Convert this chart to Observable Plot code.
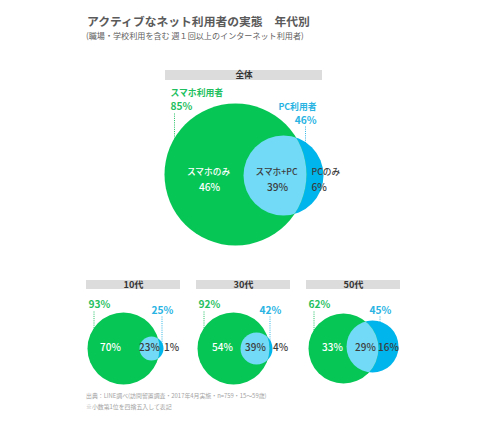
<!DOCTYPE html>
<html>
<head>
<meta charset="utf-8">
<script src="https://cdn.jsdelivr.net/npm/d3@7"></script>
<script src="https://cdn.jsdelivr.net/npm/@observablehq/plot@0.6"></script>
<style>
  body { margin: 0; background: #fff; font-family: "Noto Sans CJK JP", "Noto Sans", sans-serif; }
  #wrap { position: relative; width: 490px; height: 430px; overflow: hidden; background: #fff; }
  #title { position: absolute; left: 87px; top: 13px; font-size: 11.8px; line-height: 16px; font-weight: bold; color: #5a5a5a; white-space: pre; }
  #subtitle { position: absolute; left: 86px; top: 30px; font-size: 8.1px; line-height: 12px; color: #606060; white-space: pre; }
  #chart { position: absolute; left: 0; top: 48px; }
  #caption { position: absolute; left: 86px; top: 391px; font-size: 5.9px; line-height: 10.5px; color: #a3a3a3; white-space: pre; }
</style>
</head>
<body>
<div id="wrap">
  <div id="title"></div>
  <div id="subtitle"></div>
  <div id="chart"></div>
  <div id="caption"></div>
</div>
<script>
// ---------------- data ----------------
const titleText = "アクティブなネット利用者の実態　年代別";
const subtitleText = "(職場・学校利用を含む 週１回以上のインターネット利用者)";
const captionLines = ["出典：LINE調べ(訪問留置調査・2017年4月実施・n=759・15～59歳)", "※小数第1位を四捨五入して表記"];

const groups     = ["全体", "10代", "30代", "50代"];
const smartUsers = [85, 93, 92, 62];   // スマホ利用者
const pcUsers    = [46, 25, 42, 45];   // PC利用者
const smartOnly  = [46, 70, 54, 33];   // スマホのみ
const bothUse    = [39, 23, 39, 29];   // スマホ+PC
const pcOnly     = [6, 1, 4, 16];      // PCのみ
const setLabels  = ["スマホ利用者", "PC利用者", "スマホのみ", "スマホ+PC", "PCのみ"];

// ---------------- layout / style ----------------
const W = 490, H = 342, OY = 48;
const GREEN = "#06c755", LIGHT = "#72d9f6", BLUE = "#00b5eb", BAR = "#dcdcdc";
const GREEN_TXT = "#1fbf5f", BLUE_TXT = "#28b3e3", DARK = "#3c3c3c";
const pct = v => `${v}%`;

document.getElementById("title").textContent = titleText;
document.getElementById("subtitle").textContent = subtitleText;
document.getElementById("caption").textContent = captionLines.join("\n");

// panel geometry
const panels = [];
panels.push({
  name: groups[0], i: 0,
  hx1: 165, hx2: 322, hy1: 70, hy2: 80, hcy: 75, hfs: 8.6,
  gx: 235, gy: 174, gr: 71, bx: 283, by: 175, br: 40
});
const band = d3.scaleBand().domain(groups.slice(1)).range([86, 400]).paddingInner(16 / 110);
const smallGeo = {
  "10代": {gr: 36, bdx: 28, bdy: 0, br: 12, so: 24, bo: 63, po: 85, lx: 76},
  "30代": {gr: 36, bdx: 23, bdy: 0, br: 16, so: 26, bo: 59, po: 84, lx: 74},
  "50代": {gr: 35, bdx: 29, bdy: -2, br: 26, so: 26, bo: 59, po: 82, lx: 74}
};
groups.slice(1).forEach((g, k) => {
  const L = band(g), s = smallGeo[g];
  panels.push({
    name: g, i: k + 1, L, s,
    hx1: L, hx2: L + band.bandwidth(), hy1: 280, hy2: 289, hcy: 284.5, hfs: 9.2,
    gx: L + 37, gy: 348, gr: s.gr, bx: L + 37 + s.bdx, by: 348 + s.bdy, br: s.br
  });
});

// texts and leader lines built from the data arrays
const texts = [];
const greenLeaders = [], blueLeaders = [];
const T = (x, y, text, fill, size, weight, anchor) => texts.push({x, y, text, fill, size, weight, anchor});

// main panel
{
  const p = panels[0];
  T(170, 92.5, setLabels[0], GREEN_TXT, 8.8, "bold", "start");
  T(170, 106, pct(smartUsers[0]), GREEN_TXT, 10.2, "bold", "start");
  T(316, 106.5, setLabels[1], BLUE_TXT, 8.8, "bold", "end");
  T(316, 120, pct(pcUsers[0]), BLUE_TXT, 10.2, "bold", "end");
  T(208, 172, setLabels[2], "#ffffff", 8.7, "500", "middle");
  T(209, 187, pct(smartOnly[0]), "#ffffff", 10.2, "500", "middle");
  T(276, 172, setLabels[3], DARK, 8.7, "500", "middle");
  T(277, 187, pct(bothUse[0]), DARK, 10.2, "500", "middle");
  T(311, 172, setLabels[4], DARK, 8.7, "500", "start");
  T(311, 187, pct(pcOnly[0]), DARK, 10.2, "500", "start");
  greenLeaders.push({x: 174, y1: 113, y2: p.gy});
  blueLeaders.push({x: 305, y1: 126, y2: p.by});
}
// age panels
panels.slice(1).forEach(p => {
  const {L, s, i} = p;
  T(L + 2, 304, pct(smartUsers[i]), GREEN_TXT, 10.2, "bold", "start");
  T(L + s.lx, 310, pct(pcUsers[i]), BLUE_TXT, 10.2, "bold", "middle");
  T(L + s.so, 347, pct(smartOnly[i]), "#ffffff", 10, "500", "middle");
  T(L + s.bo, 347, pct(bothUse[i]), DARK, 10, "500", "middle");
  T(L + s.po, 347, pct(pcOnly[i]), DARK, 10, "500", "middle");
  greenLeaders.push({x: L + 7.5, y1: 311, y2: p.gy});
  blueLeaders.push({x: L + s.lx - 0.5, y1: 316, y2: p.by});
});

// ---------------- marks ----------------
const marks = [
  Plot.rect(panels, {x1: "hx1", x2: "hx2", y1: "hy1", y2: "hy2", fill: BAR}),
  ...panels.map(p => Plot.text([p], {x: d => (d.hx1 + d.hx2) / 2, y: "hcy", text: "name", fill: "#333", fontSize: p.hfs, fontWeight: "bold"})),
  Plot.link(greenLeaders, {x1: "x", x2: "x", y1: "y1", y2: "y2", stroke: GREEN_TXT, strokeWidth: 1, strokeDasharray: "1 1.2"}),
  Plot.link(blueLeaders, {x1: "x", x2: "x", y1: "y1", y2: "y2", stroke: BLUE_TXT, strokeWidth: 1, strokeDasharray: "1 1.2"})
];
panels.forEach(p => {
  marks.push(Plot.dot([p], {x: "bx", y: "by", r: p.br, fill: BLUE}));
  marks.push(Plot.dot([p], {x: "gx", y: "gy", r: p.gr, fill: GREEN}));
  marks.push(Plot.dot([p], {x: "bx", y: "by", r: p.br, fill: LIGHT}));
});
texts.forEach(t => marks.push(Plot.text([t], {
  x: "x", y: "y", text: "text", fill: t.fill, fontSize: t.size, fontWeight: t.weight, textAnchor: t.anchor
})));

const svg = Plot.plot({
  width: W, height: H, margin: 0,
  x: {domain: [0, W], range: [0, W], axis: null},
  y: {domain: [OY, OY + H], range: [0, H], axis: null},
  style: {fontFamily: '"Noto Sans CJK JP", "Noto Sans", sans-serif', background: "#fff", overflow: "visible"},
  marks
});

// clip the light-blue circles to their green circle (the intersection region)
const xs = svg.scale("x"), ys = svg.scale("y");
const root = d3.select(svg);
const defs = root.insert("defs", ":first-child");
const dotGroups = root.selectAll('g[aria-label="dot"]').nodes();
panels.forEach((p, k) => {
  const id = "clipGreen" + k;
  defs.append("clipPath").attr("id", id).append("circle")
    .attr("cx", xs.apply(p.gx)).attr("cy", ys.apply(p.gy)).attr("r", p.gr);
  const g = dotGroups[3 * k + 2];
  if (g) d3.select(g).attr("clip-path", `url(#${id})`);
});

document.getElementById("chart").appendChild(svg);
</script>
</body>
</html>
